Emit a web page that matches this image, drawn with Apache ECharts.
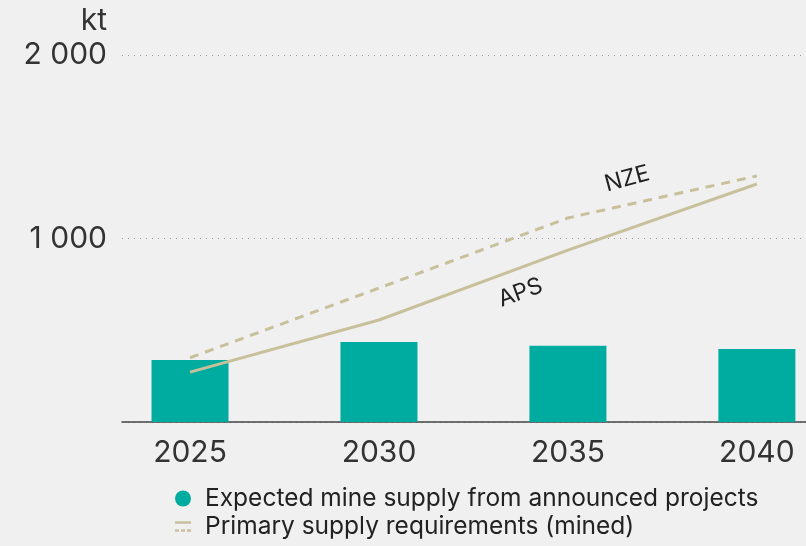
<!DOCTYPE html>
<html>
<head>
<meta charset="utf-8">
<script src="https://cdn.jsdelivr.net/npm/echarts@6/dist/echarts.min.js"></script>
<style>
  html, body { margin: 0; padding: 0; background: #f0f0f0; }
  #main { width: 806px; height: 546px; }
</style>
</head>
<body>
<div id="main"></div>
<script>
var chartDom = document.getElementById('main');
var myChart = echarts.init(chartDom);

const years = [2025, 2030, 2035, 2040];
const mineSupply = [338, 436, 416, 398];
const apsValues = [272, 556, 937, 1297];
const nzeValues = [350, 730, 1112, 1341];
const yTicks = [0, 1000, 2000];

const teal = '#00ab9f';
const khaki = '#c8c09b';
const font = 'Inter, Roboto, sans-serif';

function pairs(vals) {
    return years.map(function (y, i) { return [y, vals[i]]; });
}

// put a rotated text label on one point of a line
function labelled(vals, idx, text, rot, off) {
    return pairs(vals).map(function (p, i) {
        if (i !== idx) return p;
        return {
            value: p,
            label: {
                show: true, formatter: text, rotate: rot,
                offset: off, position: 'top',
                fontFamily: font, fontSize: 23, color: '#222'
            }
        };
    });
}

let option = {
    backgroundColor: '#f0f0f0',
    animation: false,
    grid: { left: 122, right: 0, top: 55, bottom: 124 },
    legend: {
        orient: 'vertical',
        left: 170,
        top: 481,
        itemGap: 3,
        itemWidth: 16,
        itemHeight: 16,
        textStyle: { fontFamily: font, fontSize: 24.5, color: '#222', padding: [0, 0, 0, 9] },
        data: [
            { name: 'Expected mine supply from announced projects', icon: 'circle' },
            { name: 'Primary supply requirements (mined)',
              icon: 'path://M0,0h12v2h-12z M0,6h3v2h-3z M4.5,6h3v2h-3z M9,6h3v2h-3z' }
        ]
    },
    xAxis: {
        type: 'value',
        min: 2023.2,
        max: 2041.3,
        splitLine: { show: false },
        axisTick: { show: false },
        axisLine: { show: true, lineStyle: { color: '#444', width: 1.5 } },
        axisLabel: {
            customValues: years,
            formatter: function (v) { return String(v); },
            fontFamily: font,
            fontSize: 30,
            color: '#333',
            margin: 16
        }
    },
    yAxis: {
        type: 'value',
        min: yTicks[0],
        max: yTicks[yTicks.length - 1],
        interval: 1000,
        name: 'kt',
        nameLocation: 'end',
        nameGap: 19,
        nameTextStyle: { fontFamily: font, fontSize: 30, color: '#333', align: 'right', padding: [0, 15, 0, 0] },
        axisLine: { show: false },
        axisTick: { show: false },
        splitLine: { lineStyle: { color: '#999', type: [1, 5], width: 1 } },
        axisLabel: {
            fontFamily: font,
            fontSize: 30,
            color: '#333',
            margin: 15,
            formatter: function (v) {
                return v === 0 ? '' : String(v).replace(/\B(?=(\d{3})+(?!\d))/g, ' ');
            }
        }
    },
    series: [
        {
            name: 'Expected mine supply from announced projects',
            type: 'bar',
            barWidth: 77,
            itemStyle: { color: teal },
            data: pairs(mineSupply),
            z: 1
        },
        {
            name: 'Primary supply requirements (mined)',
            type: 'line',
            symbol: 'circle',
            symbolSize: 0,
            lineStyle: { color: khaki, width: 3 },
            itemStyle: { color: khaki },
            data: labelled(apsValues, 2, 'APS', 20, [-61, 40]),
            z: 3
        },
        {
            name: 'NZE',
            type: 'line',
            symbol: 'circle',
            symbolSize: 0,
            lineStyle: { color: khaki, width: 3, type: [9, 7] },
            itemStyle: { color: khaki },
            data: labelled(nzeValues, 2, 'NZE', 15, [66, -6]),
            z: 3
        }
    ]
};

option && myChart.setOption(option);
</script>
</body>
</html>
